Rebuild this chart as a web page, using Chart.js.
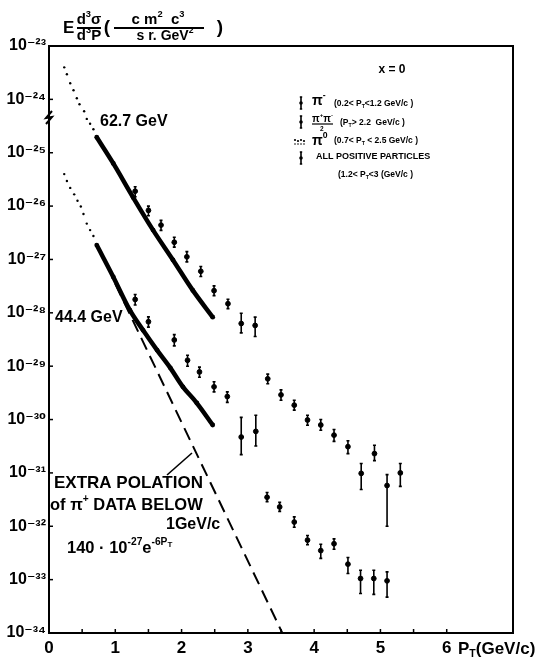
<!DOCTYPE html>
<html>
<head>
<meta charset="utf-8">
<script src="https://cdn.jsdelivr.net/npm/chart.js@4/dist/chart.umd.min.js"></script>
<style>
  html, body { margin: 0; padding: 0; background: #fff; }
  canvas { display: block; }
</style>
</head>
<body>
<canvas id="c" width="550" height="666"></canvas>
<script>
// ---- data (invariant cross-section vs transverse momentum) ----
const xTickLabels = ['0', '1', '2', '3', '4', '5', '6'];
const yDecades = [-34, -33, -32, -31, -30, -29, -28, -27, -26, -25, -24, -23];

// pi-minus, low pT
const ptPiMinus627 = [0.23, 0.27, 0.32, 0.37, 0.42, 0.46, 0.53, 0.57, 0.62, 0.67];
const csPiMinus627 = [3.98e-24, 2.95e-24, 2.0e-24, 1.48e-24, 1.05e-24, 8.1e-25, 6.0e-25, 4.3e-25, 3.5e-25, 2.75e-25];
const ptPiMinus444 = [0.23, 0.27, 0.32, 0.38, 0.43, 0.48, 0.52, 0.57, 0.62, 0.67];
const csPiMinus444 = [3.98e-26, 2.95e-26, 2.19e-26, 1.66e-26, 1.26e-26, 9.8e-27, 7.1e-27, 4.7e-27, 3.55e-27, 2.75e-27];

// pi-zero, 0.7 < pT < 2.5
const ptPiZero627 = [0.72, 0.97, 1.27, 1.57, 1.87, 2.17, 2.47];
const csPiZero627 = [1.95e-25, 6.3e-26, 1.45e-26, 3.55e-27, 9.8e-28, 2.63e-28, 8.3e-29];
const ptPiZero444 = [0.72, 0.97, 1.22, 1.42, 1.63, 1.83, 2.02, 2.23, 2.47];
const csPiZero444 = [1.86e-27, 4.7e-28, 1.12e-28, 4.7e-29, 2.0e-29, 9.3e-30, 4.1e-30, 2.04e-30, 7.9e-31];

// all positive particles
const ptPos627 = [1.30, 1.50, 1.69, 1.89, 2.08, 2.29, 2.49, 2.70, 2.90, 3.11];
const csPos627 = [1.9e-26, 8.3e-27, 4.4e-27, 2.1e-27, 1.12e-27, 6.0e-28, 2.6e-28, 1.48e-28, 6.3e-29, 5.8e-29];
const loPos627 = [1.5e-26, 6.6e-27, 3.5e-27, 1.7e-27, 9.0e-28, 4.8e-28, 2.1e-28, 1.2e-28, 4.2e-29, 3.6e-29];
const hiPos627 = [2.3e-26, 1.0e-26, 5.4e-27, 2.6e-27, 1.4e-27, 7.4e-28, 3.2e-28, 1.8e-28, 9.8e-29, 8.3e-29];
const ptPos444 = [1.30, 1.50, 1.89, 2.09, 2.27, 2.49, 2.69, 2.90, 3.12];
const csPos444 = [1.78e-28, 6.8e-29, 3.1e-29, 1.29e-29, 7.8e-30, 4.1e-30, 2.7e-30, 4.7e-31, 6.0e-31];
const loPos444 = [1.4e-28, 5.4e-29, 2.4e-29, 1.0e-29, 6.2e-30, 3.3e-30, 2.1e-30, 2.2e-31, 3.2e-31];
const hiPos444 = [2.2e-28, 8.4e-29, 3.9e-29, 1.6e-29, 9.6e-30, 5.1e-30, 3.3e-30, 1.1e-30, 1.2e-30];

// (pi+ + pi-)/2, high pT
const ptPiPM627 = [3.30, 3.50, 3.70, 3.90, 4.10, 4.30, 4.51, 4.71, 4.91, 5.10, 5.30];
const csPiPM627 = [5.8e-30, 2.9e-30, 1.86e-30, 9.8e-31, 7.9e-31, 5.1e-31, 3.1e-31, 9.8e-32, 2.3e-31, 5.8e-32, 1.0e-31];
const loPiPM627 = [4.7e-30, 2.3e-30, 1.5e-30, 7.8e-31, 6.3e-31, 3.9e-31, 2.3e-31, 4.9e-32, 1.7e-31, 1.0e-32, 5.6e-32];
const hiPiPM627 = [7.1e-30, 3.6e-30, 2.3e-30, 1.2e-30, 1.0e-30, 6.5e-31, 4.0e-31, 1.5e-31, 3.3e-31, 9.3e-32, 1.5e-31];
const ptPiPM444 = [3.29, 3.48, 3.70, 3.90, 4.10, 4.30, 4.51, 4.70, 4.90, 5.10];
const csPiPM444 = [3.5e-32, 2.3e-32, 1.2e-32, 5.5e-33, 3.5e-33, 4.7e-33, 1.95e-33, 1.05e-33, 1.05e-33, 9.5e-34];
const loPiPM444 = [2.9e-32, 1.9e-32, 9.6e-33, 4.5e-33, 2.5e-33, 3.7e-33, 1.3e-33, 5.5e-34, 5.3e-34, 4.7e-34];
const hiPiPM444 = [4.3e-32, 2.8e-32, 1.5e-32, 6.7e-33, 4.6e-33, 5.8e-33, 2.6e-33, 1.5e-33, 1.5e-33, 1.4e-33];

// extrapolation of low-pT data (straight line on the log scale)
const ptExtrap = [1.0, 3.52];
const csExtrap = [3.5e-28, 1.0e-34];

const pts = (xs, ys) => xs.map((x, i) => ({ x, y: ys[i] }));
const FONT = '"Liberation Sans", "DejaVu Sans", Arial, sans-serif';
const SUP = { '-': '\u207B', '0': '\u2070', '1': '\u00B9', '2': '\u00B2', '3': '\u00B3', '4': '\u2074',
              '5': '\u2075', '6': '\u2076', '7': '\u2077', '8': '\u2078', '9': '\u2079' };
const supText = s => s.split('').map(c => SUP[c] || c).join('');

// draws a run of text pieces: [text, mode] with mode 1 = superscript, -1 = subscript
function rich(ctx, x, y, parts, size, align) {
  let w = 0;
  const segs = parts.map(p => {
    const [t, m] = Array.isArray(p) ? p : [p, 0];
    const s = m ? size * 0.62 : size;
    ctx.font = `bold ${s}px ${FONT}`;
    const sw = ctx.measureText(t).width;
    w += sw;
    return { t, m, s, sw };
  });
  let cx = align === 'center' ? x - w / 2 : align === 'right' ? x - w : x;
  ctx.textAlign = 'left';
  ctx.textBaseline = 'middle';
  for (const g of segs) {
    ctx.font = `bold ${g.s}px ${FONT}`;
    const dy = g.m === 1 ? -size * 0.38 : g.m === -1 ? size * 0.32 : 0;
    ctx.fillText(g.t, cx, y + dy);
    cx += g.sw;
  }
  return w;
}

function errBar(ctx, x, y1, y2, cap) {
  ctx.beginPath();
  ctx.moveTo(x, y1); ctx.lineTo(x, y2);
  if (cap) {
    ctx.moveTo(x - cap, y1); ctx.lineTo(x + cap, y1);
    ctx.moveTo(x - cap, y2); ctx.lineTo(x + cap, y2);
  }
  ctx.stroke();
}

const decor = {
  id: 'decor',
  afterDatasetsDraw(chart) {
    const { ctx, chartArea: a, scales: { x, y } } = chart;
    ctx.save();
    ctx.strokeStyle = '#000';
    ctx.fillStyle = '#000';

    // frame: top and right sides
    ctx.lineWidth = 2;
    ctx.beginPath();
    ctx.moveTo(a.left, a.top); ctx.lineTo(a.right, a.top); ctx.lineTo(a.right, a.bottom);
    ctx.stroke();

    // inward tick marks
    ctx.lineWidth = 1.5;
    for (let v = 0.5; v <= 6.01; v += 0.5) {
      const px = x.getPixelForValue(v);
      ctx.beginPath(); ctx.moveTo(px, a.bottom); ctx.lineTo(px, a.bottom - 4); ctx.stroke();
    }
    for (const d of yDecades) {
      const py = y.getPixelForValue(Math.pow(10, d));
      ctx.beginPath(); ctx.moveTo(a.left, py); ctx.lineTo(a.left + 4, py); ctx.stroke();
    }

    // axis break mark
    ctx.lineWidth = 2;
    ctx.beginPath();
    ctx.moveTo(a.left + 3, 111); ctx.lineTo(a.left - 3, 118); ctx.lineTo(a.left + 3, 117); ctx.lineTo(a.left - 3, 124);
    ctx.stroke();

    // error bars
    ctx.lineWidth = 1.6;
    chart.data.datasets.forEach((ds, i) => {
      if (!ds.errLo) return;
      const meta = chart.getDatasetMeta(i);
      meta.data.forEach((pt, j) => {
        errBar(ctx, pt.x, y.getPixelForValue(ds.errLo[j]), y.getPixelForValue(ds.errHi[j]), 1.5);
      });
    });

    // y-axis title
    rich(ctx, 63, 28, ['E'], 17, 'left');
    rich(ctx, 89, 20, [['d', 0], ['3', 1], ['\u03C3', 0]], 15, 'center');
    rich(ctx, 89, 36, [['d', 0], ['3', 1], ['P', 0]], 15, 'center');
    ctx.lineWidth = 2;
    ctx.beginPath(); ctx.moveTo(77, 28); ctx.lineTo(101, 28); ctx.stroke();
    ctx.font = `bold 19px ${FONT}`; ctx.textAlign = 'center'; ctx.textBaseline = 'middle';
    ctx.fillText('(', 107, 28);
    rich(ctx, 158, 20, [['c m', 0], ['2', 1], ['  c', 0], ['3', 1]], 15, 'center');
    ctx.beginPath(); ctx.moveTo(114, 28); ctx.lineTo(204, 28); ctx.stroke();
    rich(ctx, 165, 36, [['s r. GeV', 0], ['2', 1]], 14, 'center');
    ctx.font = `bold 19px ${FONT}`; ctx.textAlign = 'center';
    ctx.fillText(')', 220, 28);

    // x-axis title
    rich(ctx, 458, 649, [['P', 0], ['T', -1], ['(GeV/c)', 0]], 17, 'left');

    // energy labels
    rich(ctx, 100, 122, ['62.7 GeV'], 16, 'left');
    rich(ctx, 55, 318, ['44.4 GeV'], 16, 'left');

    // extrapolation note
    rich(ctx, 54, 483, ['EXTRA POLATION'], 17, 'left');
    rich(ctx, 50, 505, [['of \u03C0', 0], ['+', 1], [' DATA BELOW', 0]], 16.5, 'left');
    rich(ctx, 166, 525, ['1GeV/c'], 16, 'left');
    const w140 = rich(ctx, 67, 548, [['140 \u00B7 10', 0], ['-27', 1], ['e', 0], ['-6P', 1]], 16.5, 'left');
    rich(ctx, 67 + w140, 545, [['T', 0]], 8, 'left');
    ctx.lineWidth = 1.6;
    ctx.beginPath(); ctx.moveTo(167, 475); ctx.lineTo(192, 453); ctx.stroke();

    // legend
    rich(ctx, 392, 70, ['x = 0'], 12, 'center');
    ctx.lineWidth = 1.6;
    const sym = (yy) => { errBar(ctx, 301, yy - 6, yy + 6, 1.2); ctx.beginPath(); ctx.arc(301, yy, 1.8, 0, Math.PI * 2); ctx.fill(); };
    sym(103);
    rich(ctx, 312, 101, [['\u03C0', 0], ['-', 1]], 14, 'left');
    rich(ctx, 334, 104, [['(0.2< P', 0], ['T', -1], ['<1.2 GeV/c )', 0]], 8.5, 'left');
    sym(122);
    rich(ctx, 312, 119, [['\u03C0', 0], ['+', 1], ['\u03C0', 0], ['-', 1]], 10, 'left');
    ctx.lineWidth = 1.2;
    ctx.beginPath(); ctx.moveTo(312, 124); ctx.lineTo(333, 124); ctx.stroke();
    rich(ctx, 320, 129, ['2'], 6.5, 'left');
    rich(ctx, 340, 123, [['(P', 0], ['T', -1], ['> 2.2  GeV/c )', 0]], 8.5, 'left');
    // pi-zero symbol: a short band of dots
    for (let k = 0; k < 4; k++) { ctx.beginPath(); ctx.arc(295 + k * 3, 140 + (k % 2), 1.1, 0, Math.PI * 2); ctx.fill(); }
    for (let k = 0; k < 4; k++) { ctx.beginPath(); ctx.arc(295 + k * 3, 144, 0.8, 0, Math.PI * 2); ctx.fill(); }
    rich(ctx, 312, 141, [['\u03C0', 0], ['0', 1]], 14, 'left');
    rich(ctx, 334, 141, [['(0.7< P', 0], ['T', -1], [' < 2.5 GeV/c )', 0]], 8.5, 'left');
    ctx.lineWidth = 1.6;
    sym(158);
    rich(ctx, 316, 157, ['ALL POSITIVE PARTICLES'], 9, 'left');
    rich(ctx, 338, 175, [['(1.2< P', 0], ['T', -1], ['<3 (GeV/c )', 0]], 8.5, 'left');

    ctx.restore();
  }
};

const black = '#000';
new Chart(document.getElementById('c'), {
  type: 'scatter',
  data: {
    datasets: [
      { label: '\u03C0- 62.7 GeV', data: pts(ptPiMinus627, csPiMinus627), pointRadius: 1.2, backgroundColor: black, borderColor: black, borderWidth: 0 },
      { label: '\u03C0- 44.4 GeV', data: pts(ptPiMinus444, csPiMinus444), pointRadius: 1.2, backgroundColor: black, borderColor: black, borderWidth: 0 },
      { label: '\u03C00 62.7 GeV', data: pts(ptPiZero627, csPiZero627), showLine: true, tension: 0.35, borderWidth: 4.5, borderColor: black, backgroundColor: black, pointRadius: 2.4, pointBorderWidth: 0 },
      { label: '\u03C00 44.4 GeV', data: pts(ptPiZero444, csPiZero444), showLine: true, tension: 0.35, borderWidth: 4.5, borderColor: black, backgroundColor: black, pointRadius: 2.4, pointBorderWidth: 0 },
      { label: 'positives 62.7 GeV', data: pts(ptPos627, csPos627), errLo: loPos627, errHi: hiPos627, pointRadius: 2.4, backgroundColor: black, borderColor: black },
      { label: 'positives 44.4 GeV', data: pts(ptPos444, csPos444), errLo: loPos444, errHi: hiPos444, pointRadius: 2.4, backgroundColor: black, borderColor: black },
      { label: '(\u03C0+ + \u03C0-)/2 62.7 GeV', data: pts(ptPiPM627, csPiPM627), errLo: loPiPM627, errHi: hiPiPM627, pointRadius: 2.4, backgroundColor: black, borderColor: black },
      { label: '(\u03C0+ + \u03C0-)/2 44.4 GeV', data: pts(ptPiPM444, csPiPM444), errLo: loPiPM444, errHi: hiPiPM444, pointRadius: 2.4, backgroundColor: black, borderColor: black },
      { label: 'extrapolation', data: pts(ptExtrap, csExtrap), showLine: true, borderDash: [13, 7], borderWidth: 2, borderColor: black, pointRadius: 0 }
    ]
  },
  options: {
    responsive: false,
    animation: false,
    events: [],
    layout: { padding: { top: 46, right: 37, left: 0, bottom: 0 } },
    plugins: { legend: { display: false }, tooltip: { enabled: false } },
    scales: {
      x: {
        type: 'linear', min: 0, max: 7,
        afterBuildTicks: s => { s.ticks = xTickLabels.map((_, i) => ({ value: i })); },
        afterFit: s => { s.height = 33; },
        grid: { display: false, drawTicks: false },
        border: { display: true, color: black, width: 2 },
        ticks: {
          color: black, padding: 5, maxRotation: 0, autoSkip: false,
          font: { family: FONT, size: 17, weight: 'bold' },
          callback: (v, i) => xTickLabels[i]
        }
      },
      y: {
        type: 'logarithmic', min: 1e-34, max: 1e-23,
        afterBuildTicks: s => { s.ticks = yDecades.map(d => ({ value: Math.pow(10, d) })); },
        afterFit: s => { s.width = 49; },
        grid: { display: false, drawTicks: false },
        border: { display: true, color: black, width: 2 },
        ticks: {
          color: black, padding: 3, autoSkip: false,
          font: { family: FONT, size: 16, weight: 'bold' },
          callback: (v, i) => '10' + supText(String(yDecades[i]))
        }
      }
    }
  },
  plugins: [decor]
});
</script>
</body>
</html>
